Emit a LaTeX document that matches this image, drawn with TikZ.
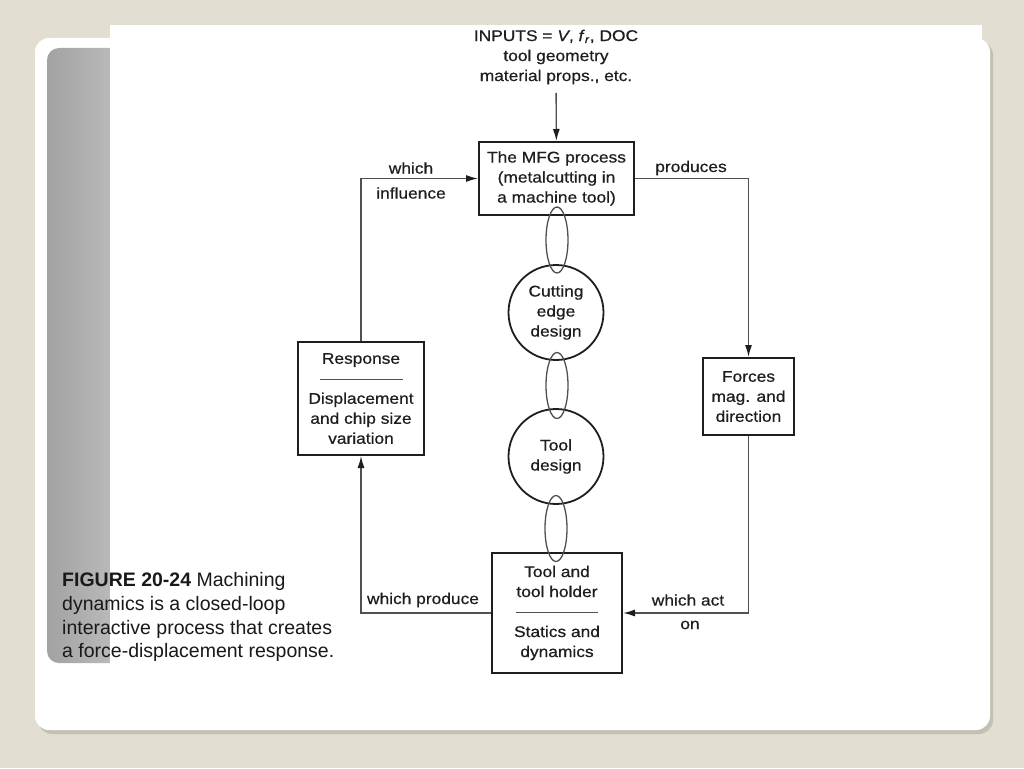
\documentclass[tikz,border=0pt]{standalone}
\usepackage{fontspec}
\setmainfont{Liberation Sans}
\newfontfamily\diagfont[FakeStretch=1.12,FakeBold=0.6]{Liberation Sans}
\usetikzlibrary{arrows.meta,shapes.geometric}
\definecolor{slidebg}{HTML}{E2DFD2}
\definecolor{shadowc}{HTML}{C4C0B4}
\definecolor{stripdark}{HTML}{A2A2A2}
\definecolor{striplight}{HTML}{C0C0C0}
\definecolor{ink}{HTML}{1E1E1E}
\definecolor{wire}{HTML}{505050}
\begin{document}
\begin{tikzpicture}[x=1pt, y=-1pt,
    every node/.style={font=\diagfont\fontsize{15.5}{20}\selectfont, text=ink, align=center},
    box/.style={draw=ink, line width=2pt, inner sep=0pt},
    disc/.style={draw=ink, circle, line width=1.8pt, minimum size=95pt, inner sep=0pt},
    ring/.style={draw=wire, ellipse, line width=1.3pt, minimum width=22pt, minimum height=66pt, inner sep=0pt},
    link/.style={draw=wire, line width=1.4pt, -{Latex[length=12pt,width=7pt,color=ink]}},
    lbl/.style={inner sep=0pt}]
      \useasboundingbox (0,0) rectangle (1024,768);
      \fill[slidebg] (0,0) rectangle (1024,768);
      \fill[shadowc, rounded corners=14pt] (38,41) rectangle (993,734);
      \fill[white, rounded corners=14pt] (35,38) rectangle (990,730);
      \shade[left color=stripdark, right color=striplight, rounded corners=12pt] (47,48) rectangle (130,663);
      \fill[white] (110,25) rectangle (982,700);
      \node (inputs) at (556,57) {INPUTS = \textit{V}, \textit{f}\textsubscript{\textit{r}}, DOC\\tool geometry\\material props., etc.};
      \node[box, minimum width=155pt, minimum height=73pt] (mfg) at (556.5,178.5) {The MFG process\\(metalcutting in\\a machine tool)};
      \node[box, minimum width=126pt, minimum height=113pt] (resp) at (361,398.5)
            {Response\\{\color{wire}\rule[4pt]{83pt}{1.2pt}}\\Displacement\\and chip size\\variation};
      \node[box, minimum width=91pt, minimum height=77pt] (forces) at (748.5,396.5) {Forces\\mag. and\\direction};
      \node[box, minimum width=130pt, minimum height=120pt] (tool) at (557,613)
            {Tool and\\tool holder\\{\color{wire}\rule[4pt]{82pt}{1.2pt}}\\Statics and\\dynamics};
      \node[disc] (edgedesign) at (556,312.5) {Cutting\\edge\\design};
      \node[disc] (tooldesign) at (556,456.5) {Tool\\design};
      \node[ring] (ringa) at (557,240) {};
      \node[ring] (ringb) at (557,385.5) {};
      \node[ring] (ringc) at (556,528.5) {};
      \draw[link, shorten <=5pt] (inputs) -- (mfg);
      \draw[link] (resp.north) |- (mfg.west);
      \draw[link] (mfg.east) -| (forces.north);
      \draw[link] (forces.south) |- (tool.east);
      \draw[link] (tool.west) -| (resp.south);
      \node[lbl] (which) at (411,168) {which};
      \node[lbl] (influence) at (411,193) {influence};
      \node[lbl] (produces) at (691,168) {produces};
      \node[lbl] (whichproduce) at (423,600) {which produce};
      \node[lbl] (whichact) at (688,600) {which act};
      \node[lbl] (acton) at (690,625) {on};
      \node[anchor=north west, inner sep=0pt, align=left, text=black!90,
            font=\fontsize{19.5}{23.7}\selectfont] (caption) at (62,572.5)
            {\textbf{FIGURE 20-24} Machining\\dynamics is a closed-loop\\interactive process that creates\\a force-displacement response.};
\end{tikzpicture}
\end{document}
